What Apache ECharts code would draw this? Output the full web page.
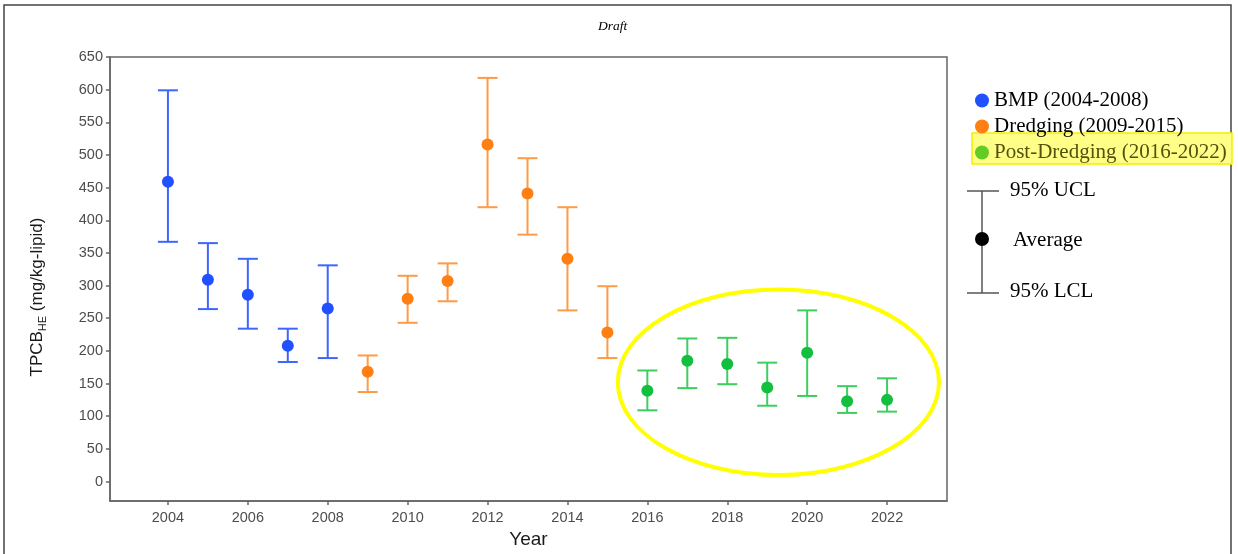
<!DOCTYPE html>
<html>
<head>
<meta charset="utf-8">
<script src="https://cdn.jsdelivr.net/npm/echarts@6/dist/echarts.min.js"></script>
<style>html,body{margin:0;padding:0;background:#fff;}#c{width:1238px;height:554px;}</style>
</head>
<body>
<div id="c"></div>
<script>
// ---- data ----
const bmpYears = [2004, 2005, 2006, 2007, 2008];
const bmpMean  = [459, 309, 286, 208, 265];
const bmpLCL   = [367, 264, 234, 183, 189];
const bmpUCL   = [599, 365, 341, 234, 331];

const dredYears = [2009, 2010, 2011, 2012, 2013, 2014, 2015];
const dredMean  = [168, 280, 307, 516, 441, 341, 228];
const dredLCL   = [137, 243, 276, 420, 378, 262, 189];
const dredUCL   = [193, 315, 334, 618, 495, 420, 299];

const postYears = [2016, 2017, 2018, 2019, 2020, 2021, 2022];
const postMean  = [139, 185, 180, 144, 197, 123, 125];
const postLCL   = [109, 143, 149, 116, 131, 105, 107];
const postUCL   = [170, 219, 220, 182, 262, 146, 158];

const groupNames = ['BMP (2004-2008)', 'Dredging (2009-2015)', 'Post-Dredging (2016-2022)'];
const yTicks = [0, 50, 100, 150, 200, 250, 300, 350, 400, 450, 500, 550, 600, 650];
const xTicks = [2004, 2006, 2008, 2010, 2012, 2014, 2016, 2018, 2020, 2022];
// highlighted region (annotation ellipse), in data units
const ellipseCenter = [2019.28, 152];
const ellipseRadius = [4.02, 142];

const dotColors = ['#2150ff', '#ff7f12', '#12bf3e'];
const barColors = ['#3d66ff', '#ff9a45', '#3ccf5f'];
const legendDotColors = ['#2150ff', '#ff7f12', '#62cc22'];

const groups = [
  [bmpYears, bmpMean, bmpLCL, bmpUCL],
  [dredYears, dredMean, dredLCL, dredUCL],
  [postYears, postMean, postLCL, postUCL]
];

const chart = echarts.init(document.getElementById('c'));
const series = [];
groups.forEach((g, gi) => {
  const [yrs, mean, lo, hi] = g;
  series.push({
    name: groupNames[gi],
    type: 'custom',
    data: yrs.map((y, i) => [y, lo[i], hi[i]]),
    encode: { x: 0, y: [1, 2] },
    z: 2,
    renderItem: function (params, api) {
      const x = api.value(0);
      const pLo = api.coord([x, api.value(1)]);
      const pHi = api.coord([x, api.value(2)]);
      const hw = 10;
      const st = { stroke: barColors[gi], lineWidth: 2 };
      return {
        type: 'group',
        children: [
          { type: 'line', shape: { x1: pLo[0], y1: pLo[1], x2: pHi[0], y2: pHi[1] }, style: st },
          { type: 'line', shape: { x1: pLo[0] - hw, y1: pLo[1], x2: pLo[0] + hw, y2: pLo[1] }, style: st },
          { type: 'line', shape: { x1: pHi[0] - hw, y1: pHi[1], x2: pHi[0] + hw, y2: pHi[1] }, style: st }
        ]
      };
    }
  });
  series.push({
    name: groupNames[gi],
    type: 'scatter',
    data: yrs.map((y, i) => [y, mean[i]]),
    symbol: 'circle',
    symbolSize: 12,
    z: 3,
    itemStyle: { color: dotColors[gi], opacity: 1 }
  });
});

const serif = '"Liberation Serif", "Times New Roman", serif';
const sans = '"Liberation Sans", Arial, sans-serif';

chart.setOption({
  animation: false,
  backgroundColor: '#fff',
  grid: { left: 110, top: 57, right: 291, bottom: 51, show: true, borderColor: '#666', borderWidth: 1.5, backgroundColor: 'transparent' },
  legend: {
    orient: 'vertical',
    left: 970,
    top: 85,
    itemWidth: 14,
    itemHeight: 14,
    itemGap: 5,
    selectedMode: false,
    textStyle: { fontFamily: serif, fontSize: 21, color: '#000' },
    data: groupNames.map((n, i) => ({
      name: n,
      icon: 'circle',
      itemStyle: { color: legendDotColors[i] },
      textStyle: i === 2 ? { color: '#52520e' } : undefined
    }))
  },
  xAxis: {
    type: 'value',
    min: 2002.55,
    max: 2023.5,
    name: 'Year',
    nameLocation: 'middle',
    nameGap: 28,
    nameTextStyle: { fontFamily: sans, fontSize: 19, color: '#1a1a1a' },
    splitLine: { show: false },
    axisLine: { show: true, onZero: false, lineStyle: { color: '#666', width: 1.5 } },
    axisTick: { show: true, length: 4, lineStyle: { color: '#666', width: 1.5 }, customValues: xTicks },
    axisLabel: { customValues: xTicks, margin: 9, fontFamily: sans, fontSize: 14.5, color: '#4d4d4d', formatter: v => String(v) }
  },
  yAxis: {
    type: 'value',
    min: -30,
    max: 650,
    name: '{a|TPCB}{b|HE}{a| (mg/kg-lipid)}',
    nameLocation: 'middle',
    nameRotate: 90,
    nameGap: 62,
    nameTextStyle: {
      padding: [0, 36, 0, 0],
      rich: {
        a: { fontFamily: sans, fontSize: 17, color: '#1a1a1a', lineHeight: 22 },
        b: { fontFamily: sans, fontSize: 11, color: '#1a1a1a', lineHeight: 22, verticalAlign: 'bottom', padding: [8, 0, 0, 0] }
      }
    },
    splitLine: { show: false },
    axisLine: { show: true, onZero: false, lineStyle: { color: '#666', width: 1.5 } },
    axisTick: { show: true, length: 4, lineStyle: { color: '#666', width: 1.5 }, customValues: yTicks },
    axisLabel: { customValues: yTicks, margin: 7, fontFamily: sans, fontSize: 14.5, color: '#4d4d4d' }
  },
  series: series
});

// annotations
const c = chart.convertToPixel({ gridIndex: 0 }, ellipseCenter);
const e = chart.convertToPixel({ gridIndex: 0 }, [ellipseCenter[0] + ellipseRadius[0], ellipseCenter[1] + ellipseRadius[1]]);
chart.setOption({
  graphic: [
    { type: 'rect', shape: { x: 4, y: 5, width: 1227, height: 560 }, style: { fill: 'none', stroke: '#444', lineWidth: 1.5 }, silent: true, z: 0 },
    { type: 'text', left: 598, top: 19, style: { text: 'Draft', fontFamily: serif, fontStyle: 'italic', fontSize: 13.5, fill: '#000' } },
    { type: 'ellipse', shape: { cx: c[0], cy: c[1], rx: Math.abs(e[0] - c[0]), ry: Math.abs(e[1] - c[1]) }, style: { fill: 'none', stroke: '#ffff00', lineWidth: 4 }, z: 5 },
    { type: 'rect', shape: { x: 972, y: 133, width: 260, height: 31 }, style: { fill: '#ffff88', stroke: '#f4f000', lineWidth: 1.5 }, z: 0 },
    // error bar key
    { type: 'line', shape: { x1: 982, y1: 191, x2: 982, y2: 293 }, style: { stroke: '#555', lineWidth: 1.5 }, z: 5 },
    { type: 'line', shape: { x1: 967, y1: 191, x2: 999, y2: 191 }, style: { stroke: '#555', lineWidth: 1.5 }, z: 5 },
    { type: 'line', shape: { x1: 967, y1: 293, x2: 999, y2: 293 }, style: { stroke: '#555', lineWidth: 1.5 }, z: 5 },
    { type: 'circle', shape: { cx: 982, cy: 239, r: 7 }, style: { fill: '#000' }, z: 6 },
    { type: 'text', x: 1010, y: 190, style: { text: '95% UCL', fontFamily: serif, fontSize: 21, fill: '#000', verticalAlign: 'middle' }, z: 5 },
    { type: 'text', x: 1013, y: 240, style: { text: 'Average', fontFamily: serif, fontSize: 21, fill: '#000', verticalAlign: 'middle' }, z: 5 },
    { type: 'text', x: 1010, y: 291, style: { text: '95% LCL', fontFamily: serif, fontSize: 21, fill: '#000', verticalAlign: 'middle' }, z: 5 }
  ]
});
</script>
</body>
</html>
